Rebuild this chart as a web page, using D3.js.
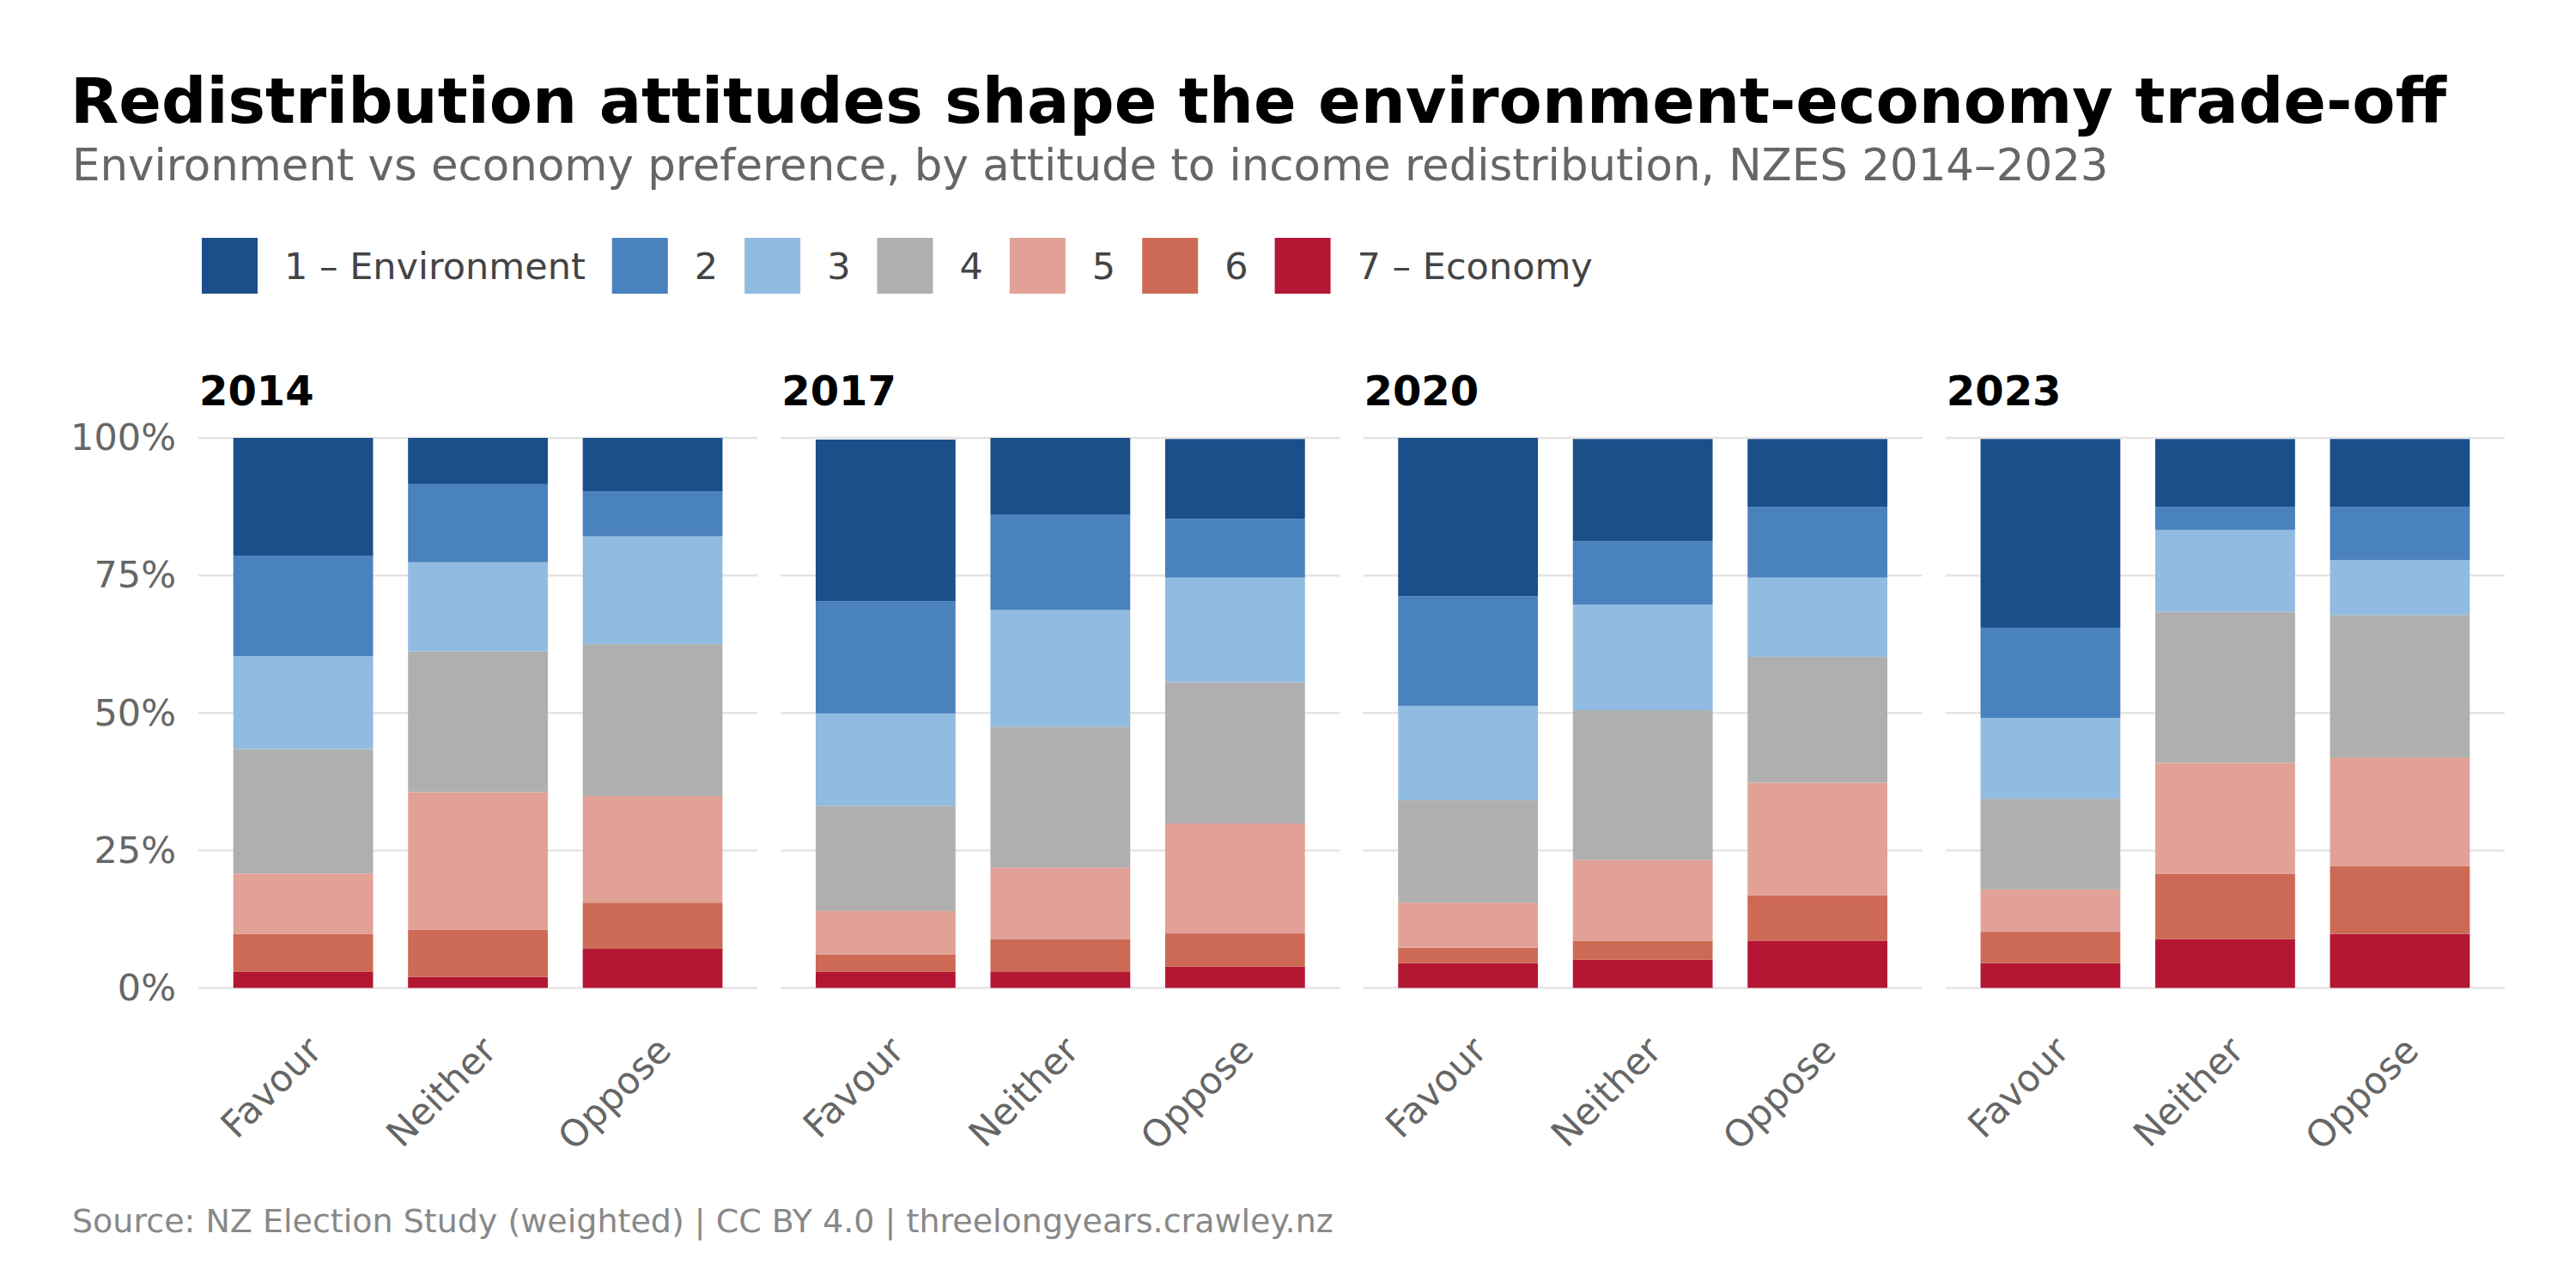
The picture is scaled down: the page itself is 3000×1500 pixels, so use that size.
<!DOCTYPE html>
<html>
<head>
<meta charset="utf-8">
<script src="https://cdn.jsdelivr.net/npm/d3@7"></script>
<style>
  body { margin: 0; background: #fff; }
  svg { display: block; font-family: "DejaVu Sans", sans-serif; }
</style>
</head>
<body>
<svg id="chart" width="3000" height="1500"></svg>
<script>
// data (percent of respondents, scale 1..7)
const years = ["2014", "2017", "2020", "2023"];
const groups = ["Favour", "Neither", "Oppose"];
const levels = ["1 – Environment", "2", "3", "4", "5", "6", "7 – Economy"];
const colours = ["#1b4f8a", "#4a81bf", "#91bbe0", "#afafaf", "#e1a197", "#cd6a55", "#b31733"];
const yTicks = [0, 0.25, 0.5, 0.75, 1];

// each row: one redistribution group, shares for levels 1..7
const v2014 = [
  [21.4, 18.3, 16.9, 22.6, 11.0, 6.9, 2.9],
  [8.4, 14.2, 16.2, 25.6, 25.0, 8.6, 2.0],
  [9.7, 8.2, 19.6, 27.6, 19.4, 8.4, 7.1]
];
const v2017 = [
  [29.4, 20.4, 16.8, 19.1, 7.9, 3.2, 2.9],
  [13.9, 17.4, 21.2, 25.6, 13.0, 5.9, 3.0],
  [14.5, 10.7, 19.0, 25.7, 20.0, 6.0, 3.9]
];
const v2020 = [
  [28.8, 19.9, 17.2, 18.6, 8.2, 2.8, 4.5],
  [18.6, 11.5, 19.2, 27.2, 14.8, 3.4, 5.1],
  [12.3, 12.9, 14.4, 22.9, 20.5, 8.2, 8.6]
];
const v2023 = [
  [34.3, 16.4, 14.7, 16.5, 7.7, 5.7, 4.5],
  [12.3, 4.2, 14.9, 27.5, 20.2, 11.8, 8.9],
  [12.3, 9.7, 10.0, 25.9, 19.8, 12.3, 9.8]
];
const panelValues = [v2014, v2017, v2020, v2023];

const svg = d3.select("#chart");
const fs = 43;

// titles
svg.append("text")
  .attr("x", 82).attr("y", 143)
  .attr("font-size", 73.2).attr("font-weight", "bold").attr("fill", "#000")
  .text("Redistribution attitudes shape the environment-economy trade-off");
svg.append("text")
  .attr("x", 84).attr("y", 210)
  .attr("font-size", 51.4).attr("fill", "#666")
  .text("Environment vs economy preference, by attitude to income redistribution, NZES 2014–2023");

// legend
const legend = svg.append("g").attr("transform", "translate(235,277)");
let lx = 0;
levels.forEach((lab, i) => {
  legend.append("rect")
    .attr("x", lx).attr("y", 0).attr("width", 65).attr("height", 65)
    .attr("fill", colours[i]);
  const t = legend.append("text")
    .attr("x", lx + 96).attr("y", 32.5).attr("dy", "0.35em")
    .attr("font-size", fs).attr("fill", "#444")
    .text(lab);
  lx += 96 + t.node().getComputedTextLength() + 31;
});

// scales
const y = d3.scaleLinear().domain([0, 1]).range([1150.5, 510]);
const panel = d3.scaleBand().domain(years).range([231, 2917]).paddingInner(0.04);
const x = d3.scaleBand().domain(groups).range([0, panel.bandwidth()]).padding(0.2);

const stack = d3.stack()
  .keys(d3.range(levels.length).reverse())
  .value((row, k) => row[k] / 100);

years.forEach((yr, p) => {
  const g = svg.append("g").attr("transform", `translate(${panel(yr)},0)`);

  // gridlines
  g.append("g")
    .selectAll("line")
    .data(yTicks)
    .join("line")
    .attr("x1", 0).attr("x2", panel.bandwidth())
    .attr("y1", d => y(d)).attr("y2", d => y(d))
    .attr("stroke", "#e4e4e4").attr("stroke-width", 2.5);

  // y axis labels only on first panel
  if (p === 0) {
    const ax = g.append("g")
      .call(d3.axisLeft(y).tickValues(yTicks).tickFormat(d3.format(".0%")).tickSize(0).tickPadding(26));
    ax.select(".domain").remove();
    ax.selectAll("text").attr("font-size", fs).attr("fill", "#666").attr("font-family", "DejaVu Sans");
  }

  // panel title
  g.append("text")
    .attr("x", 1).attr("y", 472)
    .attr("font-size", 48).attr("font-weight", "bold").attr("fill", "#000")
    .text(yr);

  // stacked bars
  const rows = panelValues[p];
  const series = stack(rows);
  g.selectAll("g.layer")
    .data(series)
    .join("g")
    .attr("class", "layer")
    .attr("fill", s => colours[s.key])
    .selectAll("rect")
    .data(s => s.map((d, i) => ({ d, grp: groups[i] })))
    .join("rect")
    .attr("x", o => x(o.grp))
    .attr("width", x.bandwidth())
    .attr("y", o => y(o.d[1]))
    .attr("height", o => y(o.d[0]) - y(o.d[1]));

  // x labels
  g.selectAll("text.xlab")
    .data(groups)
    .join("text")
    .attr("class", "xlab")
    .attr("text-anchor", "end")
    .attr("font-size", fs).attr("fill", "#666")
    .attr("transform", d => `translate(${x(d) + x.bandwidth() / 2 + 24},1226) rotate(-45)`)
    .text(d => d);
});

// source
svg.append("text")
  .attr("x", 84).attr("y", 1435)
  .attr("font-size", 38).attr("fill", "#888")
  .text("Source: NZ Election Study (weighted) | CC BY 4.0 | threelongyears.crawley.nz");
</script>
</body>
</html>
